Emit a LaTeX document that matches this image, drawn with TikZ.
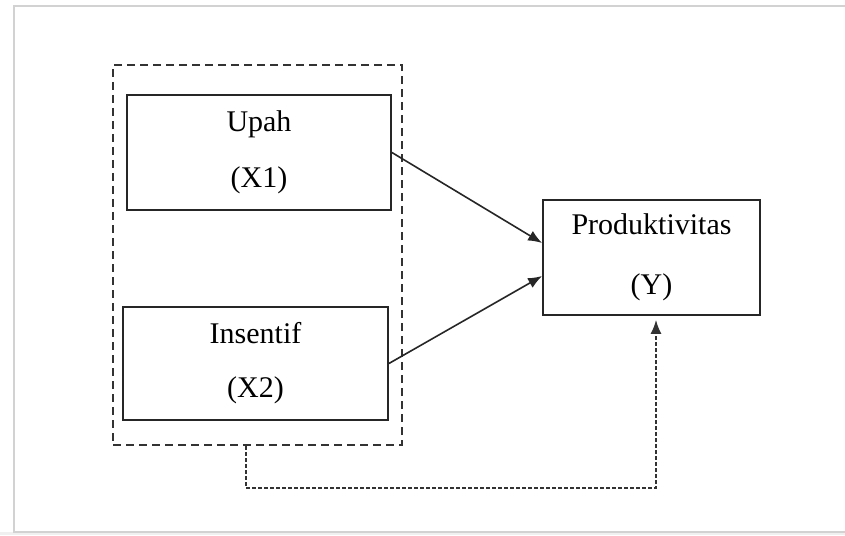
\documentclass[tikz,border=0pt]{standalone}
\usepackage{fontspec}
\setmainfont{Liberation Serif}
\usepackage{xcolor}
\usepackage{tikz}
\usetikzlibrary{arrows.meta,positioning,calc}

\begin{document}
\begin{tikzpicture}[
  x=0.5pt,y=-0.5pt,
  box/.style={rectangle,draw=black!85,line width=0.9pt,align=center,font=\fontsize{15}{17}\selectfont},
  group/.style={rectangle,draw=black!80,line width=1pt,dash pattern=on 4pt off 2.5pt},
  arr/.style={-{Latex[length=7pt,width=5.5pt]},line width=0.8pt,draw=black!85},
  dlink/.style={-{Latex[length=7pt,width=5.5pt]},line width=0.8pt,draw=black!80,dash pattern=on 2pt off 1pt},
  frame/.style={draw=gray!35,line width=1.2pt}
]
\useasboundingbox (0,0) rectangle (845,535);
\fill[gray!12] (0,532) rectangle (845,535);
\draw[frame] (845,6) -| (14,532) -- (845,532);

\node[group,minimum width=144.5pt,minimum height=190pt] (grp) at (257.5,255) {};
\node[box,minimum width=132pt,minimum height=57.5pt] (upah) at (259,152.5) {\rule{0pt}{8pt}Upah\\[11pt](X1)};
\node[box,minimum width=132.5pt,minimum height=56.5pt] (insentif) at (255.5,363.5) {Insentif\\[10pt](X2)};
\node[box,minimum width=108.5pt,minimum height=57.5pt] (prod) at (651.5,257.5) {Produktivitas\\[13pt](Y)};

\coordinate (in1) at ($(prod.west)+(0,-14.5)$);
\coordinate (in2) at ($(prod.west)+(0,18.5)$);
\coordinate (turn) at (656,488);

\draw[arr] (upah.east) -- (in1);
\draw[arr] (insentif.east) -- (in2);
\draw[dlink] ([xshift=-5.75pt]grp.south) |- (turn) -- ([yshift=-2pt]prod.south -| turn);
\end{tikzpicture}
\end{document}
